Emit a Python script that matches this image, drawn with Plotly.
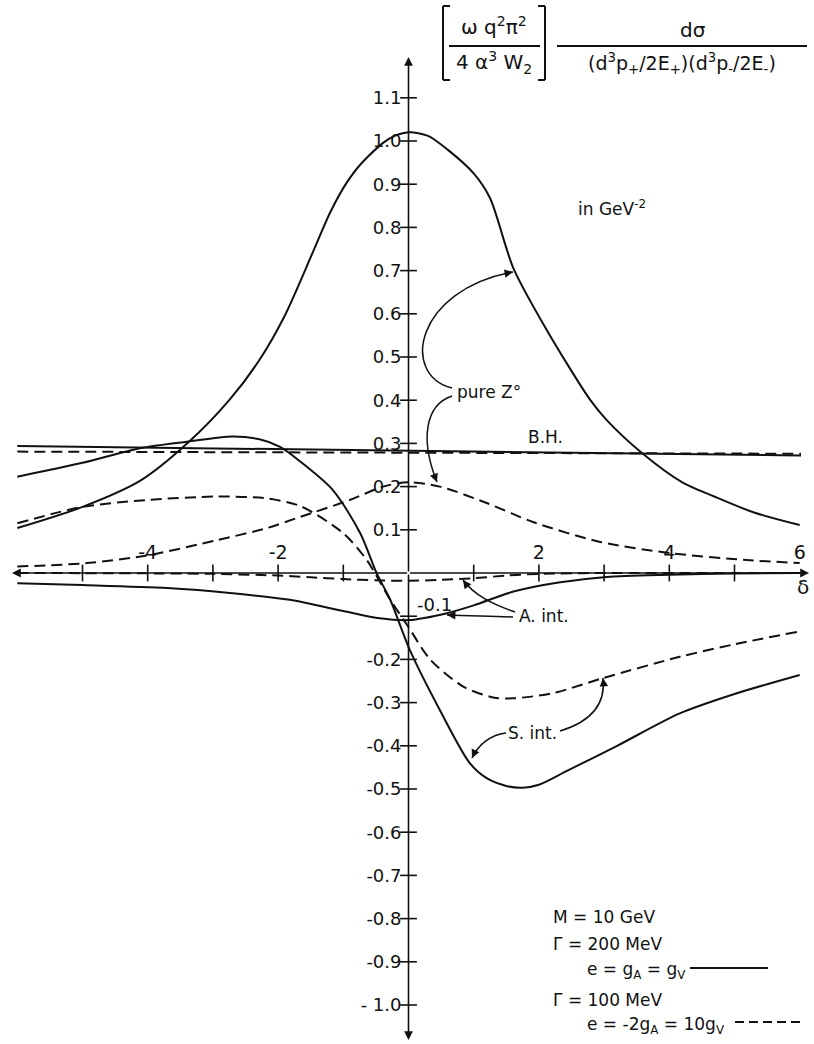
import plotly.graph_objects as go

W, H = 814, 1044

# ---------------- data ----------------
# Bethe-Heitler background
bh_x = [-6.0, 0.0, 6.02]
bh_solid = [0.294, 0.283, 0.272]
bh_dash = [0.281, 0.279, 0.276]

# pure Z0 (solid: Gamma=200 MeV, dashed: Gamma=100 MeV)
zs_x = [-6.0, -5.0, -4.1, -3.35, -2.75, -2.3, -1.9, -1.46, -1.2, -0.95, -0.7, -0.3, 0.0,
        0.3, 0.6, 1.0, 1.25, 1.61, 2.12, 2.79, 3.04, 3.58, 4.2, 4.69, 5.3, 6.0]
zs_y = [0.104, 0.153, 0.215, 0.306, 0.40, 0.49, 0.595, 0.745, 0.835, 0.903, 0.952, 1.005, 1.02,
        1.012, 0.98, 0.925, 0.868, 0.705, 0.5625, 0.40, 0.354, 0.278, 0.21, 0.177, 0.14, 0.111]
zd_x = [-6.0, -4.93, -3.96, -2.94, -2.17, -1.66, -0.9, -0.39, 0.0, 0.48, 1.2, 1.91,
        2.94, 4.02, 5.19, 6.0]
zd_y = [0.015, 0.023, 0.042, 0.076, 0.104, 0.13, 0.169, 0.2, 0.21, 0.2, 0.162, 0.118,
        0.072, 0.046, 0.03, 0.023]

# symmetric interference
ss_x = [-6.0, -5.0, -4.12, -3.4, -2.7, -2.3, -1.97, -1.66, -1.16, -0.74, -0.49, -0.28,
        0.02, 0.48, 0.94, 1.2, 1.5, 1.75, 2.0, 2.43, 3.2, 4.16, 5.0, 6.0]
ss_y = [0.223, 0.255, 0.289, 0.304, 0.316, 0.31, 0.292, 0.258, 0.192, 0.092, 0.0, -0.062,
        -0.178, -0.317, -0.44, -0.475, -0.493, -0.497, -0.49, -0.458, -0.40, -0.325, -0.28, -0.236]
sd_x = [-6.0, -5.0, -4.0, -2.95, -2.2, -1.66, -1.0, -0.64, -0.28, 0.0, 0.33, 0.84,
        1.3, 1.61, 2.22, 2.99, 4.16, 5.0, 5.97]
sd_y = [0.115, 0.153, 0.169, 0.177, 0.173, 0.155, 0.092, 0.03, -0.062, -0.125, -0.2, -0.263,
        -0.288, -0.29, -0.278, -0.243, -0.194, -0.165, -0.136]

# axial interference
as_x = [-6.0, -5.0, -3.7, -2.7, -1.82, -1.0, -0.44, 0.0, 0.59, 1.0, 1.61, 2.3, 3.04,
        4.0, 5.0, 6.0]
as_y = [-0.024, -0.028, -0.035, -0.047, -0.062, -0.088, -0.105, -0.109, -0.093, -0.075,
        -0.043, -0.022, -0.009, -0.004, -0.001, 0.0]
ad_x = [-6.0, -3.0, -2.0, -1.5, -1.0, -0.5, 0.0, 0.5, 1.0, 1.5, 2.0, 3.0, 6.0]
ad_y = [0.0, -0.002, -0.006, -0.01, -0.014, -0.017, -0.018, -0.016, -0.012, -0.006,
        -0.002, 0.0, 0.0]

# axes
x_ticks = [-5, -4, -3, -2, -1, 1, 2, 3, 4, 5]
x_labels = ["-4", "-2", "2", "4", "6"]
x_label_vals = [-4, -2, 2, 4, 6]
y_ticks = [1.1, 1.0, 0.9, 0.8, 0.7, 0.6, 0.5, 0.4, 0.3, 0.2, 0.1, -0.1, -0.2, -0.3,
           -0.4, -0.5, -0.6, -0.7, -0.8, -0.9, -1.0]
y_labels = ["1.1", "1.0", "0.9", "0.8", "0.7", "0.6", "0.5", "0.4", "0.3", "0.2", "0.1",
            "-0.1", "-0.2", "-0.3", "-0.4", "-0.5", "-0.6", "-0.7", "-0.8", "-0.9", "- 1.0"]

# ---------------- layout geometry ----------------
X0_PX, XU = 408.5, 65.2      # pixel of x=0, pixels per unit
Y0_PX, YU = 573.0, 432.0     # pixel of y=0, pixels per unit
XR = [-X0_PX / XU, (W - X0_PX) / XU]
YR = [(Y0_PX - H) / YU, Y0_PX / YU]

FONT = "DejaVu Sans"
BLACK = "#111111"
LW = 2.0
DASH = "11px,6px"


def P(px, py):
    """pixel position -> paper fraction"""
    return px / W, 1 - py / H


fig = go.Figure()


def line(x, y, dash=None, shape="spline"):
    fig.add_trace(go.Scatter(
        x=x, y=y, mode="lines", hoverinfo="skip", showlegend=False,
        line=dict(color=BLACK, width=LW, dash=dash or "solid", shape=shape, smoothing=0.8)))


line(bh_x, bh_solid, shape="linear")
line(bh_x, bh_dash, DASH, shape="linear")
line(zs_x, zs_y)
line(zd_x, zd_y, DASH)
line(ss_x, ss_y)
line(sd_x, sd_y, DASH)
line(as_x, as_y)
line(ad_x, ad_y, DASH)

# tick marks (crosses through the axes)
fig.add_trace(go.Scatter(
    x=[0] * len(y_ticks), y=y_ticks, mode="markers", hoverinfo="skip", showlegend=False,
    marker=dict(symbol="line-ew", size=12, line=dict(color=BLACK, width=1.6))))
fig.add_trace(go.Scatter(
    x=x_ticks, y=[0] * len(x_ticks), mode="markers", hoverinfo="skip", showlegend=False,
    marker=dict(symbol="line-ns", size=12, line=dict(color=BLACK, width=1.6))))

ann = []
shapes = []

# axis lines with arrowheads
x_left, x_right = (12 - X0_PX) / XU, (809 - X0_PX) / XU
y_top, y_bot = (Y0_PX - 57) / YU, (Y0_PX - 1040) / YU
for (tx, ty) in [(x_right, 0), (x_left, 0), (0, y_top), (0, y_bot)]:
    ann.append(dict(x=tx, y=ty, ax=0, ay=0, xref="x", yref="y", axref="x", ayref="y",
                    text="", showarrow=True, arrowhead=2, arrowsize=1.1, arrowwidth=1.6,
                    arrowcolor=BLACK))

# y tick labels: all on the left of the axis except -0.1 (written on the right)
yl_vals = [v for v in y_ticks if v != -0.1]
yl_text = [t for v, t in zip(y_ticks, y_labels) if v != -0.1]
ann.append(dict(x=6.5 / XU, y=-0.072, xref="x", yref="y",
                text=y_labels[y_ticks.index(-0.1)], showarrow=False,
                xanchor="left", yanchor="middle",
                font=dict(family=FONT, size=18, color=BLACK)))


def text(px, py, s, size=17, xanchor="center"):
    fx, fy = P(px, py)
    ann.append(dict(x=fx, y=fy, xref="paper", yref="paper", text=s, showarrow=False,
                    xanchor=xanchor, yanchor="middle",
                    font=dict(family=FONT, size=size, color=BLACK)))


text(803, 587, "δ", 20)

# y-axis title (formula)
text(494, 26, "ω q<sup>2</sup>π<sup>2</sup>", 20)
text(494, 63, "4 α<sup>3</sup> W<sub>2</sub>", 20)
text(693, 30, "dσ", 20)
text(682, 64, "(d<sup>3</sup>p<sub>+</sub>/2E<sub>+</sub>)(d<sup>3</sup>p<sub>-</sub>/2E<sub>-</sub>)", 19)


def seg(p0, p1, width=1.6):
    a, b = P(*p0)
    c, d = P(*p1)
    shapes.append(dict(type="line", xref="paper", yref="paper", x0=a, y0=b, x1=c, y1=d,
                       line=dict(color=BLACK, width=width)))


# brackets and fraction bars
seg((443, 6), (443, 80), 2)
seg((443, 6), (450, 6), 2)
seg((443, 80), (450, 80), 2)
seg((545, 6), (545, 80), 2)
seg((538, 6), (545, 6), 2)
seg((538, 80), (545, 80), 2)
seg((449, 46), (540, 46), 1.8)
seg((557, 46), (807, 46), 1.8)

# annotations on the plot
text(612, 208, "in GeV<sup>-2</sup>", 17)
text(489, 392, "pure Z°", 17)
text(545, 437, "B.H.", 17)
text(544, 616, "A. int.", 17)
text(532, 733, "S. int.", 17)


def pointer(pts):
    """cubic bezier pointer line in pixel coords with arrowhead at last point"""
    (x0, y0), (x1, y1), (x2, y2), (x3, y3) = pts
    q = [P(*p) for p in pts]
    path = "M {:.5f},{:.5f} C {:.5f},{:.5f} {:.5f},{:.5f} {:.5f},{:.5f}".format(
        q[0][0], q[0][1], q[1][0], q[1][1], q[2][0], q[2][1], q[3][0], q[3][1])
    shapes.append(dict(type="path", path=path, xref="paper", yref="paper",
                       line=dict(color=BLACK, width=1.5)))
    dx, dy = x3 - x2, y3 - y2
    n = (dx * dx + dy * dy) ** 0.5 or 1
    fx, fy = P(x3, y3)
    ann.append(dict(x=fx, y=fy, xref="paper", yref="paper", text="", showarrow=True,
                    ax=-10 * dx / n, ay=-10 * dy / n, arrowhead=2, arrowsize=1.2,
                    arrowwidth=1.4, arrowcolor=BLACK))


pointer([(452, 388), (400, 375), (415, 290), (513, 272)])
pointer([(452, 396), (425, 405), (420, 440), (437, 482)])
pointer([(515, 612), (492, 604), (474, 595), (463, 580)])
pointer([(513, 617), (490, 616), (470, 616), (447, 615)])
pointer([(506, 733), (490, 735), (478, 745), (472, 758)])
pointer([(560, 731), (590, 722), (606, 705), (603, 678)])

# parameter legend
text(551, 917, "M = 10 GeV", 17, "left")
text(551, 944, "Γ = 200 MeV", 17, "left")
text(585, 970, "e = g<sub>A</sub> = g<sub>V</sub>", 17, "left")
text(551, 1000, "Γ = 100 MeV", 17, "left")
text(585, 1025, "e = -2g<sub>A</sub> = 10g<sub>V</sub>", 17, "left")
a, b = P(690, 968)
c, d = P(768, 968)
shapes.append(dict(type="line", xref="paper", yref="paper", x0=a, y0=b, x1=c, y1=d,
                   line=dict(color=BLACK, width=1.8)))
a, b = P(735, 1022)
c, d = P(804, 1022)
shapes.append(dict(type="line", xref="paper", yref="paper", x0=a, y0=b, x1=c, y1=d,
                   line=dict(color=BLACK, width=1.8, dash="9px,5px")))

fig.update_layout(
    width=W, height=H, autosize=False,
    margin=dict(l=0, r=0, t=0, b=0, pad=0),
    paper_bgcolor="white", plot_bgcolor="white",
    xaxis=dict(range=XR, fixedrange=True, anchor="free", position=(0 - YR[0]) / (YR[1] - YR[0]),
               side="top", showline=False, showgrid=False, zeroline=False, ticks="",
               tickmode="array", tickvals=x_label_vals, ticktext=x_labels,
               tickfont=dict(family=FONT, size=19, color=BLACK), ticklabelstandoff=10),
    yaxis=dict(range=YR, fixedrange=True, anchor="free", position=X0_PX / W,
               side="left", showline=False, showgrid=False, zeroline=False, ticks="",
               tickmode="array", tickvals=yl_vals, ticktext=yl_text,
               tickfont=dict(family=FONT, size=18, color=BLACK), ticklabelstandoff=7),
    annotations=ann, shapes=shapes, showlegend=False,
)

# place the figure at the page's top-left corner (no default body margin)
fig.write_html("out.html", config={"displayModeBar": False},
               post_script="document.body.style.margin='0';document.body.style.overflow='hidden';")
